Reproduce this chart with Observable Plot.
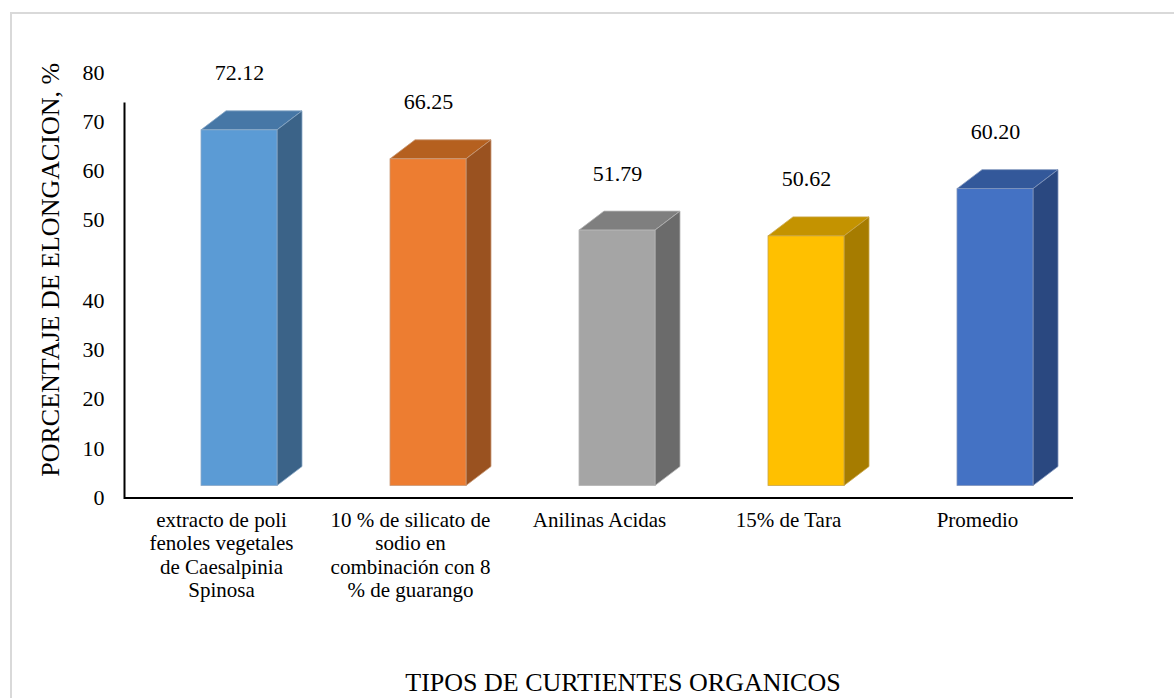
<!DOCTYPE html>
<html><head><meta charset="utf-8">
<script src="https://cdn.jsdelivr.net/npm/d3@7"></script>
<script src="https://cdn.jsdelivr.net/npm/@observablehq/plot@0.6"></script>
<style>
html,body{margin:0;padding:0;background:#fff;overflow:hidden;width:1174px;height:698px;}
#frame{position:absolute;left:10px;top:12px;width:1300px;height:800px;border:2px solid #d9d9d9;box-sizing:border-box;pointer-events:none;}
#chart{position:absolute;left:0;top:0;}
#chart svg text{font-family:'Liberation Serif','Times New Roman',serif;}
</style></head><body>
<div id="frame"></div>
<div id="chart"></div>
<script>
const categories = [
  "extracto de poli fenoles vegetales de Caesalpinia Spinosa",
  "10 % de silicato de sodio en combinación con 8 % de guarango",
  "Anilinas Acidas",
  "15% de Tara",
  "Promedio"
];
const tickLabels = [
  "extracto de poli\nfenoles vegetales\nde Caesalpinia\nSpinosa",
  "10 % de silicato de\nsodio en\ncombinación con 8\n% de guarango",
  "Anilinas Acidas",
  "15% de Tara",
  "Promedio"
];
const values = [72.12, 66.25, 51.79, 50.62, 60.20];
const frontColors = ["#5B9BD5", "#ED7D31", "#A5A5A5", "#FFC000", "#4472C4"];
const topColors   = ["#4677A6", "#B5601F", "#7F7F7F", "#C49300", "#33589A"];
const sideColors  = ["#3B6388", "#9A5220", "#6B6B6B", "#A67C00", "#2A4880"];
const edgeColors  = ["#8AA9C8", "#C99A78", "#B5B5B5", "#C9A64A", "#8095BC"];
const yTicksFront = [0, 10, 20, 30, 40];
const yTicksBack = [50, 60, 70, 80];
const yTitle = "PORCENTAJE DE ELONGACION, %";
const xTitle = "TIPOS DE CURTIENTES ORGANICOS";

// 3D depth offsets (bar depth and floor depth)
const DX = -25, DY = 19;
const FDX = -43, FDY = 31;

const data = categories.map((c, i) => ({
  cat: c, value: values[i], front: frontColors[i], top: topColors[i], side: sideColors[i], edge: edgeColors[i]
}));

function bars3d(index, scales, vals, dimensions, context) {
  const X = vals.x, Y1 = vals.y1, Y2 = vals.y2;
  let bw = scales.x && typeof scales.x.bandwidth === "function" ? scales.x.bandwidth() : (scales.x ? scales.x.bandwidth : undefined);
  if (!(bw > 0)) bw = (X[1] - X[0]) * 0.4;
  const g = d3.create("svg:g");
  for (const i of index) {
    const xb = X[i];
    const yt = Math.min(Y1[i], Y2[i]), yb = Math.max(Y1[i], Y2[i]);
    const xf = xb + DX, ytf = yt + DY, ybf = yb + DY;
    g.append("path")
      .attr("d", `M${xf},${ytf}L${xf + bw},${ytf}L${xb + bw},${yt}L${xb},${yt}Z`)
      .attr("fill", data[i].top)
      .attr("stroke", data[i].edge).attr("stroke-width", 0.8).attr("stroke-linejoin", "round");
    g.append("path")
      .attr("d", `M${xf + bw},${ytf}L${xb + bw},${yt}L${xb + bw},${yb}L${xf + bw},${ybf}Z`)
      .attr("fill", data[i].side)
      .attr("stroke", data[i].edge).attr("stroke-width", 0.8).attr("stroke-linejoin", "round");
    g.append("rect")
      .attr("x", xf).attr("y", ytf).attr("width", bw).attr("height", ybf - ytf)
      .attr("fill", data[i].front)
      .attr("stroke", data[i].edge).attr("stroke-width", 0.8);
  }
  return g.node();
}

const chart = Plot.plot({
  width: 1174,
  height: 698,
  marginLeft: 167,
  marginRight: 58,
  marginTop: 72,
  marginBottom: 231.5,
  style: "font-family: 'Liberation Serif', 'Times New Roman', serif; font-size: 22px; color: #000; overflow: visible; background: transparent;",
  x: {domain: categories, paddingInner: 0.6, paddingOuter: 0.3, align: 0.5},
  y: {domain: [0, 80]},
  marks: [
    Plot.ruleY([0], {dx: FDX, dy: FDY, stroke: "#000", strokeWidth: 2}),
    Plot.frame({anchor: "left", dx: FDX, dy: FDY, stroke: "#000", strokeWidth: 2}),
    Plot.barY(data, {x: "cat", y: "value", render: bars3d}),
    Plot.text(data, {x: "cat", y: "value", text: d => d.value.toFixed(2), dx: DX, dy: -38, fontSize: 22, fill: "#000"}),
    Plot.axisX({tickFormat: d => tickLabels[categories.indexOf(d)], dx: FDX, dy: FDY, tickSize: 0, tickPadding: 12, fontSize: 21, lineHeight: 1.12, label: null, fill: "#000"}),
    Plot.text([xTitle], {frameAnchor: "bottom", text: d => d, dx: -19, dy: 224, fontSize: 26, fill: "#000"}),
    Plot.axisY({ticks: yTicksFront, dy: FDY, tickSize: 0, tickPadding: 63, label: null, fontSize: 22, fill: "#000"}),
    Plot.axisY({ticks: yTicksBack, tickSize: 0, tickPadding: 63, label: null, fontSize: 22, fill: "#000"}),
    Plot.axisY({ticks: [], label: yTitle, labelAnchor: "center", labelOffset: 127, labelArrow: "none", fontSize: 26, fill: "#000"})
  ]
});
document.getElementById("chart").appendChild(chart);
</script>
</body></html>
